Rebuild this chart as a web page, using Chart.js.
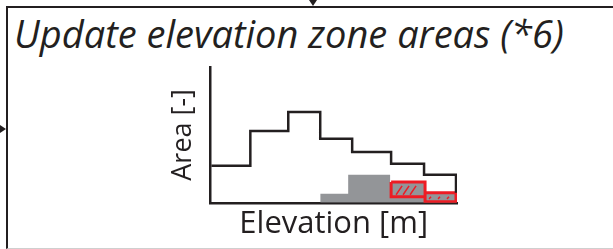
<!DOCTYPE html>
<html lang="en">
<head>
  <meta charset="UTF-8">
  <title>Update elevation zone areas</title>
  <script src="https://cdn.jsdelivr.net/npm/chart.js"></script>
  <style>
    html, body { margin: 0; padding: 0; background: #fff; }
    body { width: 613px; height: 249px; position: relative; overflow: hidden; }
    #frame { position: absolute; left: 6px; top: 6px; width: 700px; height: 240px;
             border-left: 2px solid #231f20; border-top: 2px solid #231f20; border-bottom: 1px solid #cfcfcf; }
    #arrowTop { position: absolute; left: 309px; top: 0; width: 0; height: 0;
                border-left: 4px solid transparent; border-right: 4px solid transparent; border-top: 6px solid #231f20; }
    #arrowLeft { position: absolute; left: 0; top: 125px; width: 0; height: 0;
                 border-top: 4px solid transparent; border-bottom: 4px solid transparent; border-left: 6px solid #231f20; }
    #title { position: absolute; left: 14px; top: 7px; font: italic 38px "Open Sans", sans-serif;
             color: #231f20; white-space: nowrap; }
    #wrap { position: absolute; left: 0; top: 0; width: 613px; height: 249px; }
  </style>
</head>
<body>
  <div id="frame"></div>
  <div id="arrowTop"></div>
  <div id="arrowLeft"></div>
  <div id="title">Update elevation zone areas (*6)</div>
  <div id="wrap"><canvas id="zoneChart"></canvas></div>

  <script>
    // elevation bin edges and total area of each zone (schematic units)
    const binEdges = [1, 40, 78, 110, 142, 181, 214, 246];
    const binAreas = [27.2, 52.9, 66.9, 47.1, 37.5, 28.7, 20.6];
    const lastDrop = 7.4;

    // grey part of the zones that changes
    const greyEdges = [110, 138, 180, 214, 246];
    const greyAreas = [6.6, 20.6, 15.4, 7.4];

    // red outlined zones [x0, x1, y0, y1]
    const redBoxes = [
      [181, 215, 4.4, 15.4],
      [215, 246, 0.7, 7.4]
    ];

    // hatch strokes inside the red zones [x0, y0, x1, y1]
    const hatches = [
      [186, 5.9, 192, 12.5], [193, 5.9, 199, 12.5], [200, 5.9, 206, 12.5],
      [219, 2.9, 221, 4.4], [228, 2.9, 230, 4.4], [237, 2.9, 239, 4.4]
    ];

    const ink = '#231f20';
    const red = '#ed1c24';

    // step outline
    const stepData = binAreas.map((a, i) => ({ x: binEdges[i], y: a }));
    stepData.push({ x: binEdges[binEdges.length - 1], y: binAreas[binAreas.length - 1] });
    stepData.push({ x: binEdges[binEdges.length - 1], y: lastDrop });

    const greyData = greyAreas.map((a, i) => ({ x: greyEdges[i], y: a }));
    greyData.push({ x: greyEdges[greyEdges.length - 1], y: greyAreas[greyAreas.length - 1] });

    const boxData = [];
    redBoxes.forEach(b => {
      boxData.push({ x: b[0], y: b[3] }, { x: b[1], y: b[3] }, { x: b[1], y: b[2] },
                   { x: b[0], y: b[2] }, { x: b[0], y: b[3] }, { x: b[0], y: null });
    });

    const hatchData = [];
    hatches.forEach(h => {
      hatchData.push({ x: h[0], y: h[1] }, { x: h[2], y: h[3] }, { x: h[2], y: null });
    });

    // chart.js paints the first dataset on top, so the outline comes first
    const ctx = document.getElementById('zoneChart').getContext('2d');
    new Chart(ctx, {
      type: 'line',
      data: {
        datasets: [
          {
            label: 'area',
            data: stepData,
            stepped: 'before',
            borderColor: ink,
            borderWidth: 2.5,
            pointRadius: 0,
            fill: false
          },
          {
            label: 'hatch',
            data: hatchData,
            borderColor: red,
            borderWidth: 1.5,
            pointRadius: 0,
            spanGaps: false
          },
          {
            label: 'boxes',
            data: boxData,
            borderColor: red,
            borderWidth: 3,
            pointRadius: 0,
            spanGaps: false
          },
          {
            label: 'changed',
            data: greyData,
            stepped: 'before',
            fill: 'origin',
            backgroundColor: '#939598',
            borderWidth: 0,
            pointRadius: 0
          }
        ]
      },
      options: {
        responsive: true,
        maintainAspectRatio: false,
        animation: false,
        layout: { padding: { left: 167, right: 156, top: 67, bottom: 5 } },
        plugins: {
          legend: { display: false },
          tooltip: { enabled: false }
        },
        scales: {
          x: {
            type: 'linear',
            min: 0,
            max: 247,
            grid: { display: false, drawTicks: false },
            ticks: { display: false },
            border: { display: true, color: ink, width: 2.5 },
            title: { display: true, text: 'Elevation [m]', color: ink,
                     font: { family: 'Open Sans', size: 31 }, padding: { top: 3, bottom: 1 } }
          },
          y: {
            min: 0,
            max: 100,
            grid: { display: false, drawTicks: false },
            ticks: { display: false },
            border: { display: true, color: ink, width: 2.5 },
            title: { display: true, text: 'Area [-]', color: ink,
                     font: { family: 'Open Sans', size: 27 }, padding: { top: 0, bottom: 11 } }
          }
        }
      }
    });
  </script>
</body>
</html>
